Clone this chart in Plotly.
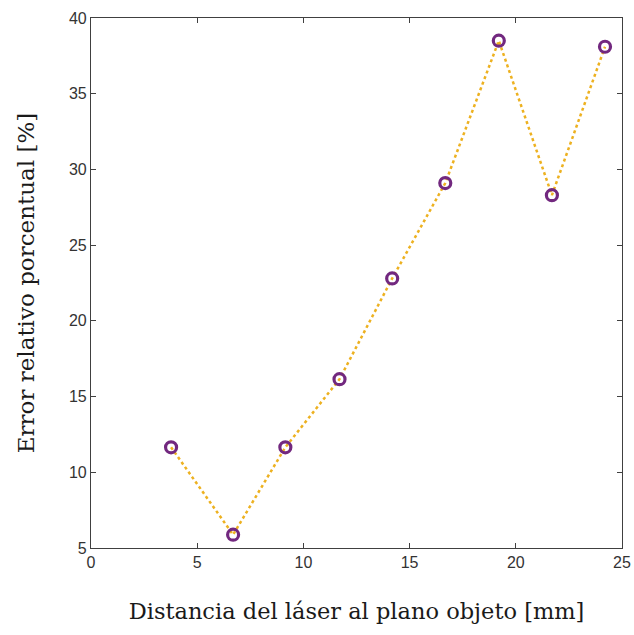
import plotly.graph_objects as go

distancia = [3.77, 6.69, 9.15, 11.7, 14.18, 16.68, 19.2, 21.7, 24.2]
error = [11.65, 5.88, 11.65, 16.15, 22.8, 29.1, 38.5, 28.3, 38.1]

x_ticks = [0, 5, 10, 15, 20, 25]
y_ticks = [5, 10, 15, 20, 25, 30, 35, 40]

fig = go.Figure()
fig.add_trace(go.Scatter(
    x=distancia, y=error, mode="lines+markers",
    line=dict(color="#EDB120", width=2.5, dash="dot"),
    marker=dict(symbol="circle-open", size=11, color="#72287F",
                line=dict(width=3.2, color="#72287F")),
    showlegend=False,
))

axis_common = dict(
    showline=True, linecolor="#404040", linewidth=1.2, mirror="ticks",
    ticks="inside", ticklen=5, tickcolor="#404040", tickwidth=1,
    showgrid=False, zeroline=False, automargin=False,
    tickfont=dict(family="Liberation Sans, Arial", size=16, color="#333333"),
)

fig.update_layout(
    width=634, height=635,
    margin=dict(l=91, r=12, t=18, b=87),
    paper_bgcolor="white", plot_bgcolor="white",
    xaxis=dict(range=[0, 25], tickvals=x_ticks,
               title=dict(text="Distancia del láser al plano objeto [mm]",
                          font=dict(family="DejaVu Serif", size=22.5, color="#1a1a1a"),
                          standoff=32),
               **axis_common),
    yaxis=dict(range=[5, 40], tickvals=y_ticks,
               title=dict(text="Error relativo porcentual [%]",
                          font=dict(family="DejaVu Serif", size=23, color="#1a1a1a"),
                          standoff=27),
               **axis_common),
)

fig.write_html("out.html")
